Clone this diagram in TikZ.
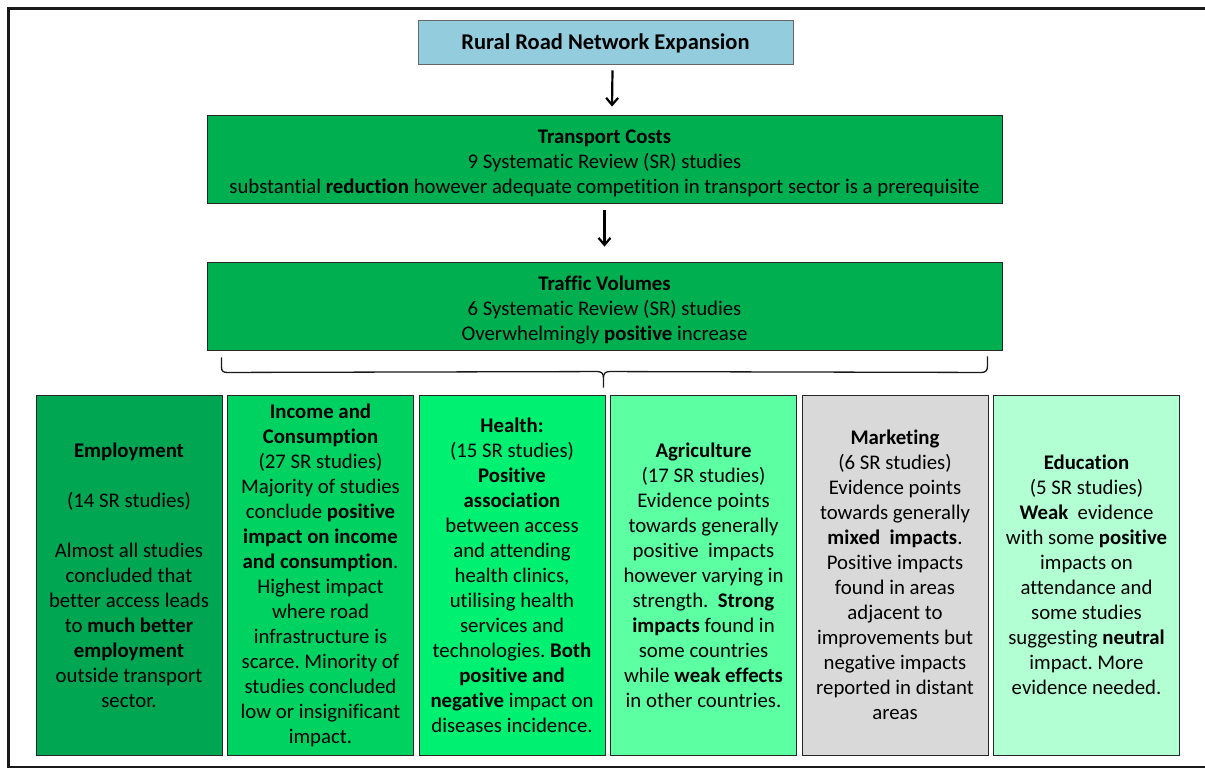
\documentclass[tikz,border=0pt]{standalone}
\usepackage{fontspec}
\setmainfont{Carlito}[Ligatures=NoCommon]
\usetikzlibrary{arrows.meta}
\definecolor{topblue}{HTML}{93CDDD}
\definecolor{maingreen}{HTML}{00B050}
\definecolor{cA}{HTML}{00A651}
\definecolor{cB}{HTML}{00D262}
\definecolor{cC}{HTML}{00F071}
\definecolor{cD}{HTML}{5CFFA2}
\definecolor{cE}{HTML}{D9D9D9}
\definecolor{cF}{HTML}{B3FFD4}
\tikzset{
  box/.style={draw=black!85, line width=0.9pt, rectangle, align=center, inner sep=2pt,
    font=\fontsize{20.8}{25}\selectfont},
  catbox/.style={box, minimum width=186pt, minimum height=360pt},
  arr/.style={line width=2.2pt, -{Straight Barb[length=7pt,width=12pt,line width=2.2pt]}},
}
\newcommand{\lowstrut}{\rule{0pt}{22pt}}
\begin{document}
\frenchspacing
\begin{tikzpicture}[x=1pt,y=-1pt]
\useasboundingbox (0,0) rectangle (1205,769);
\draw[line width=2.5pt, black!90] (8.5,8.3) rectangle (1230,767);

\node[box, fill=topblue, draw=black!60, minimum width=375pt, minimum height=44pt,
  font=\fontsize{22.5}{27}\selectfont] (top) at (605.5,42)
  {\rule{0pt}{19pt}\textbf{Rural Road Network Expansion}};
\node[box, fill=maingreen, minimum width=795pt, minimum height=88pt] (tc) at (604.5,159)
  {\lowstrut\textbf{Transport Costs}\\9 Systematic Review (SR) studies\\substantial \textbf{reduction} however adequate competition in transport sector is a prerequisite};
\node[box, fill=maingreen, minimum width=795pt, minimum height=88pt] (tv) at (604.5,306)
  {\lowstrut\textbf{Traffic Volumes}\\6 Systematic Review (SR) studies\\Overwhelmingly \textbf{positive} increase};

\draw[arr] ([xshift=7pt,yshift=-6pt]top.south) -- ([xshift=7.5pt,yshift=8pt]tc.north);
\draw[arr] ([xshift=0pt,yshift=-7pt]tc.south) -- ([xshift=0pt,yshift=15pt]tv.north);

\node[catbox, fill=cA] (b1) at (129,575)
  {\textbf{Employment}\\[25pt](14 SR studies)\\[25pt]Almost all studies\\concluded that\\better access leads\\to \textbf{much better}\\\textbf{employment}\\outside transport\\sector.};
\node[catbox, fill=cB] (b2) at (320.5,575)
  {\textbf{Income and}\\\textbf{Consumption}\\(27 SR studies)\\Majority of studies\\conclude \textbf{positive}\\\textbf{impact on income}\\\textbf{and consumption}.\\Highest impact\\where road\\infrastructure is\\scarce. Minority of\\studies concluded\\low or insignificant\\impact.};
\node[catbox, fill=cC] (b3) at (512,575)
  {\textbf{Health:}\\(15 SR studies)\\\textbf{Positive}\\\textbf{association}\\between access\\and attending\\health clinics,\\utilising health\\services and\\technologies. \textbf{Both}\\\textbf{positive and}\\\textbf{negative} impact on\\diseases incidence.};
\node[catbox, fill=cD] (b4) at (703.5,575)
  {\textbf{Agriculture}\\(17 SR studies)\\Evidence points\\towards generally\\positive\ \ impacts\\however varying in\\strength.\ \ \textbf{Strong}\\\textbf{impacts} found in\\some countries\\while \textbf{weak effects}\\in other countries.};
\node[catbox, fill=cE] (b5) at (895,575)
  {\textbf{Marketing}\\(6 SR studies)\\Evidence points\\towards generally\\\textbf{mixed\ \ impacts}.\\Positive impacts\\found in areas\\adjacent to\\improvements but\\negative impacts\\reported in distant\\areas};
\node[catbox, fill=cF] (b6) at (1086.5,575)
  {\textbf{Education}\\(5 SR studies)\\\textbf{Weak}\ \ evidence\\with some \textbf{positive}\\impacts on\\attendance and\\some studies\\suggesting \textbf{neutral}\\impact. More\\evidence needed.};

% brace
\coordinate (bl) at ([xshift=15pt,yshift=-7pt]tv.south west);
\coordinate (br) at ([xshift=-15pt,yshift=-6pt]tv.south east);
\coordinate (bm) at ([xshift=-2pt,yshift=7pt]b3.north east);
\draw[line width=1.3pt, black!90]
  (bl) -- ++(0,10) .. controls ++(0,4) and ++(-4,0) .. ++(6,5) -- ([xshift=-6pt,yshift=16pt]bm)
  .. controls ++(4,0) and ++(0,-4) .. ([yshift=10pt]bm) -- (bm);
\draw[line width=1.3pt, black!90]
  (br) -- ++(0,10) .. controls ++(0,4) and ++(4,0) .. ++(-6,6) -- ([xshift=6pt,yshift=16pt]bm)
  .. controls ++(-4,0) and ++(0,-4) .. ([yshift=10pt]bm);
\end{tikzpicture}
\end{document}
